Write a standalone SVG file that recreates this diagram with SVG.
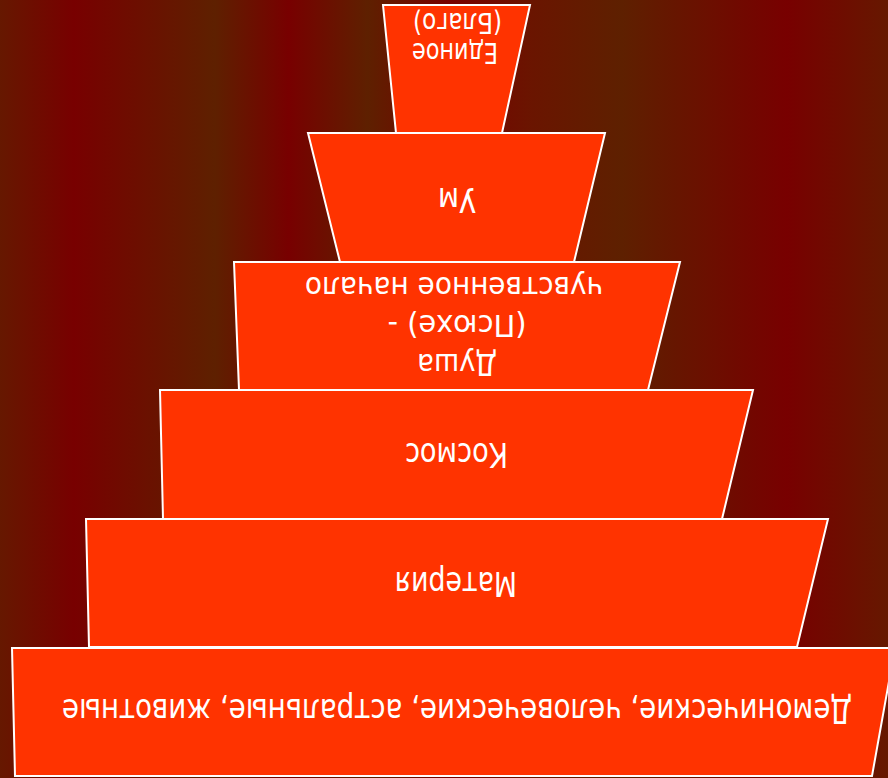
<svg xmlns="http://www.w3.org/2000/svg" width="888" height="778" viewBox="0 0 888 778">
  <defs>
    <linearGradient id="bg" x1="0" y1="0" x2="888" y2="0" gradientUnits="userSpaceOnUse">
      <stop offset="0" stop-color="#661800"/>
      <stop offset="0.083" stop-color="#780000"/>
      <stop offset="0.242" stop-color="#5e2000"/>
      <stop offset="0.325" stop-color="#780000"/>
      <stop offset="0.414" stop-color="#5e2000"/>
      <stop offset="0.507" stop-color="#780000"/>
      <stop offset="0.60" stop-color="#6a1500"/>
      <stop offset="0.70" stop-color="#5e2000"/>
      <stop offset="0.886" stop-color="#780000"/>
      <stop offset="1" stop-color="#661800"/>
    </linearGradient>
  </defs>
  <style>
    .lvl { fill: #ff3300; stroke: #ffffff; stroke-width: 2; stroke-linejoin: miter; }
    .lbl { fill: #ffffff; font-family: "DejaVu Sans Condensed", "DejaVu Sans", sans-serif; text-anchor: middle; }
  </style>
  <rect x="0" y="0" width="888" height="778" fill="url(#bg)"/>
  <g id="connectors"/>
  <g id="n1">
    <polygon class="lvl" points="12,648 895,648 872,776 15,776"/>
    <g transform="rotate(180 444 389)">
      <text class="lbl" x="431" y="79" font-size="33" textLength="790" lengthAdjust="spacingAndGlyphs">Демонические, человеческие, астральные, животные</text>
    </g>
  </g>
  <g id="n2">
    <polygon class="lvl" points="86,519 828,519 797,647 89,647"/>
    <g transform="rotate(180 444 389)">
      <text class="lbl" x="432" y="206" font-size="33" textLength="122" lengthAdjust="spacingAndGlyphs">Материя</text>
    </g>
  </g>
  <g id="n3">
    <polygon class="lvl" points="160,390 753,390 722,519 163,519"/>
    <g transform="rotate(180 444 389)">
      <text class="lbl" x="431.5" y="335" font-size="33" textLength="103" lengthAdjust="spacingAndGlyphs">Космос</text>
    </g>
  </g>
  <g id="n4">
    <polygon class="lvl" points="234,262 680,262 648,390 239,390"/>
    <g transform="rotate(180 444 389)">
      <text class="lbl" x="431" y="424" font-size="31" textLength="80" lengthAdjust="spacingAndGlyphs">Душа</text>
      <text class="lbl" x="431" y="463" font-size="31" textLength="139" lengthAdjust="spacingAndGlyphs">(Псюхе) -</text>
      <text class="lbl" x="434" y="501" font-size="31" textLength="298" lengthAdjust="spacingAndGlyphs">чувственное начало</text>
    </g>
  </g>
  <g id="n5">
    <polygon class="lvl" points="308,133 605,133 574,262 340,262"/>
    <g transform="rotate(180 444 389)">
      <text class="lbl" x="431" y="590" font-size="33" textLength="38" lengthAdjust="spacingAndGlyphs">Ум</text>
    </g>
  </g>
  <g id="n6">
    <polygon class="lvl" points="383,5 530,5 502,133 396,133"/>
    <g transform="rotate(180 444 389)">
      <text class="lbl" x="433" y="735" font-size="28" textLength="86" lengthAdjust="spacingAndGlyphs">Единое</text>
      <text class="lbl" x="430.5" y="765" font-size="28" textLength="89" lengthAdjust="spacingAndGlyphs">(Благо)</text>
    </g>
  </g>
</svg>
